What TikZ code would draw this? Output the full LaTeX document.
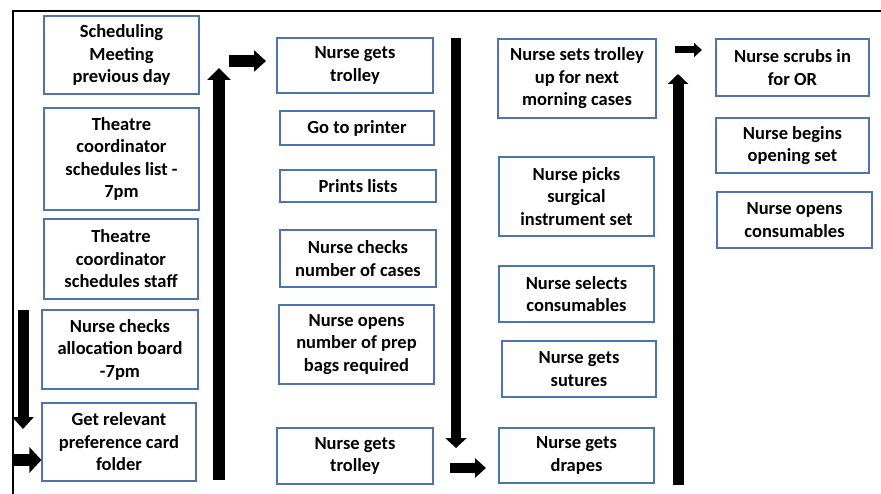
\documentclass[tikz,border=0pt]{standalone}
\usepackage{fontspec}
\setmainfont{Carlito}
\usetikzlibrary{arrows.meta}
\definecolor{boxblue}{RGB}{79,114,176}
\tikzset{
  box/.style={draw=boxblue, line width=1.1pt, align=center, inner sep=0pt,
    font=\fontsize{18.5}{22.5}\selectfont\bfseries, text=black},
  fat/.style={draw=black, line width=#1},
}
\newcommand{\bx}[6]{\node[box, minimum width=#4pt, minimum height=#5pt] (#1) at (#2,#3) {#6};}
\begin{document}
\begin{tikzpicture}[x=1pt,y=-1pt]
\useasboundingbox[fill=white] (0,0) rectangle (881,494);
% frame
\draw[line width=1.6pt] (13,494) -- (13,11) -- (881,11);
% column 1
\bx{b1}{121.5}{55}{155}{78}{Scheduling\\Meeting\\previous day}
\bx{b2}{121.5}{159}{155}{102}{Theatre\\coordinator\\schedules list -\\7pm}
\bx{b3}{121}{259}{154}{80}{Theatre\\coordinator\\schedules staff}
\bx{b4}{120}{349.5}{156}{79}{Nurse checks\\allocation board\\-7pm}
\bx{b5}{119}{442}{154}{78}{Get relevant\\preference card\\folder}
% column 2
\bx{b6}{355}{65.5}{156}{55}{Nurse gets\\trolley}
\bx{b7}{357}{128}{154}{34}{Go to printer}
\bx{b8}{358}{186}{156}{32}{Prints lists}
\bx{b9}{358}{258.5}{156}{57}{Nurse checks\\number of cases}
\bx{b10}{356.5}{344.5}{155}{79}{Nurse opens\\number of prep\\bags required}
\bx{b11}{355}{456}{156}{56}{Nurse gets\\trolley}
% column 3
\bx{b12}{577}{78.5}{158}{79}{Nurse sets trolley\\up for next\\morning cases}
\bx{b13}{576.5}{196.5}{155}{79}{Nurse picks\\surgical\\instrument set}
\bx{b14}{576.5}{294}{155}{56}{Nurse selects\\consumables}
\bx{b15}{579}{369}{154}{56}{Nurse gets\\sutures}
\bx{b16}{576.5}{455.5}{155}{55}{Nurse gets\\drapes}
% column 4
\bx{b17}{792.5}{67.5}{153}{57}{Nurse scrubs in\\for OR}
\bx{b18}{792.5}{145.5}{153}{55}{Nurse begins\\opening set}
\bx{b19}{794.5}{220}{155}{56}{Nurse opens\\consumables}
% arrow end points
\coordinate (a1s) at (23,310);  \coordinate (a1e) at (23,429);
\coordinate (a2s) at (13,460);  \coordinate (a2e) at (b5.west |- 0,460);
\coordinate (a3s) at (219,480); \coordinate (a3e) at (219,68);
\coordinate (a4s) at (229,61);  \coordinate (a4e) at (266,61);
\coordinate (a5s) at (456,38);  \coordinate (a5e) at (456,448);
\coordinate (a6s) at (450,468); \coordinate (a6e) at (486,468);
\coordinate (a7s) at (678,485); \coordinate (a7e) at (678,74);
\coordinate (a8s) at (675,50);  \coordinate (a8e) at (702,50);
% arrows
\draw[fat=11pt, -{Triangle[width=21pt,length=12pt]}] (a1s) -- (a1e);
\draw[fat=12pt, -{Triangle[width=25pt,length=12pt]}] (a2s) -- (a2e);
\draw[fat=12pt, -{Triangle[width=23pt,length=12pt]}] (a3s) -- (a3e);
\draw[fat=12pt, -{Triangle[width=21pt,length=12pt]}] (a4s) -- (a4e);
\draw[fat=10pt, -{Triangle[width=21pt,length=10pt]}] (a5s) -- (a5e);
\draw[fat=10pt, -{Triangle[width=19pt,length=11pt]}] (a6s) -- (a6e);
\draw[fat=11pt, -{Triangle[width=20pt,length=10pt]}] (a7s) -- (a7e);
\draw[fat=7pt, -{Triangle[width=14pt,length=8pt]}] (a8s) -- (a8e);
\end{tikzpicture}
\end{document}
